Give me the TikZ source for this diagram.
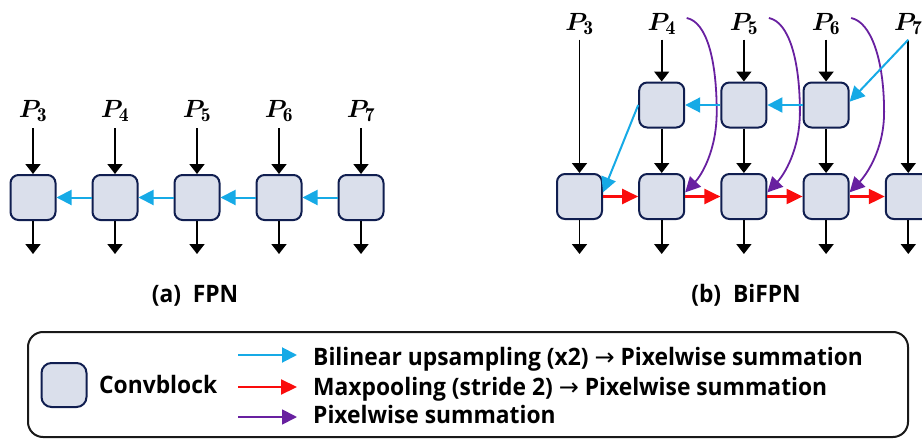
\documentclass[tikz,border=0pt]{standalone}
\usepackage{fontspec}
\usepackage{amsmath,bm}
\usetikzlibrary{arrows.meta}
\newfontfamily\uisans[FakeStretch=0.95]{Open Sans}
\newfontfamily\arrowglyph{DejaVu Sans}
\definecolor{upcyan}{RGB}{22,170,230}
\definecolor{poolred}{RGB}{250,12,12}
\definecolor{sumpurple}{RGB}{104,32,160}
\definecolor{blockedge}{RGB}{16,30,80}
\definecolor{blockfill}{RGB}{218,223,235}
\begin{document}
\begin{tikzpicture}[x=1pt,y=-1pt,
  cblock/.style={draw=blockedge, fill=blockfill, line width=2pt, rounded corners=8pt,
    minimum width=45pt, minimum height=45pt, inner sep=0pt},
  plabel/.style={inner sep=0pt, font=\fontsize{28}{32}\selectfont},
  txt/.style={inner sep=0pt, font=\uisans\bfseries\fontsize{24}{28}\selectfont},
  blk/.style={draw=black, line width=1.8pt, -{Triangle[width=15pt,length=10pt]}},
  cy/.style={draw=upcyan, line width=2pt, -{Triangle[width=15pt,length=15pt]}},
  rd/.style={draw=poolred, line width=2.2pt, -{Triangle[width=15pt,length=16pt]}},
  pp/.style={draw=sumpurple, line width=1.8pt, -{Triangle[width=15pt,length=15pt]}}]
\clip (0,0) rectangle (922,439);

% ---------- FPN ----------
\foreach \i/\x in {3/33,4/115,5/197,6/279,7/361}{
  \node[cblock] (f\i) at (\x,197.5) {};
  \node[plabel, minimum height=34pt] (fp\i) at (\x,111) {$\bm{P}_{\mathbf{\i}}$};
  \coordinate (fo\i) at (\x,254);
  \draw[blk] (fp\i.south) -- (f\i.north);
  \draw[blk] (f\i.south) -- (fo\i);
}
\foreach \a/\b in {4/3,5/4,6/5,7/6}{
  \draw[cy] (f\a.west) -- (f\b.east);
}
\node[txt, anchor=base] (capa) at (195,302) {(a)\ \ FPN};

% ---------- BiFPN ----------
\foreach \i/\x in {3/579.5,4/661.7,5/743.9,6/826.1,7/908.3}{
  \node[cblock] (b\i) at (\x,196.5) {};
  \node[plabel, minimum height=31pt] (bp\i) at (\x,24) {$\bm{P}_{\mathbf{\i}}$};
  \coordinate (bo\i) at (\x,254);
  \draw[blk] (b\i.south) -- (bo\i);
}
\foreach \i/\x in {4/661.7,5/743.9,6/826.1}{
  \node[cblock] (t\i) at (\x,105) {};
  \draw[blk] (bp\i.south) -- (t\i.north);
  \draw[blk] (t\i.south) -- (b\i.north);
}
\draw[blk] (bp3.south) -- (b3.north);
\draw[blk] (bp7.south) -- (b7.north);

% maxpooling path, left to right
\foreach \a/\b in {3/4,4/5,5/6,6/7}{
  \draw[rd] (b\a.east) -- (b\b.west);
}

% skip connections from the inputs
\foreach \i/\x/\w in {4/661.7/55,5/743.9/56,6/826.1/58}{
  \coordinate (s\i) at (\x+25,18);
  \draw[pp] (s\i) .. controls (\x+45,22) and (\x+\w,60) .. (\x+\w,112)
    .. controls (\x+\w,150) and (\x+40,175) .. (b\i.10);
}

% upsampling path, right to left
\draw[cy] (bp7.south) -- (t6.8);
\foreach \a/\b in {6/5,5/4}{
  \draw[cy] (t\a.west) -- (t\b.east);
}
\draw[cy] (t4.west) -- (b3.10);
\node[txt, anchor=base] (capb) at (746,302) {(b)\ \ BiFPN};

% ---------- legend ----------
\node[draw=black!90, line width=2pt, rounded corners=15pt, minimum width=880pt,
  minimum height=105pt, inner sep=0pt] (legend) at (468,384.5) {};
\node[cblock, minimum height=44pt, rounded corners=10pt] (key) at (64,385) {};
\node[txt, anchor=base west] (keytxt) at (99,393) {Convblock};
\foreach \r/\y/\c in {1/355/cy,2/387/rd,3/417/pp}{
  \coordinate (la\r) at (238,\y);
  \coordinate (lb\r) at (297,\y);
  \draw[\c] (la\r) -- (lb\r);
}
\node[txt, anchor=base west] (l1) at (313,365)
  {Bilinear upsampling (x2) {\arrowglyph\mdseries →} Pixelwise summation};
\node[txt, anchor=base west] (l2) at (313,395)
  {Maxpooling (stride 2) {\arrowglyph\mdseries →} Pixelwise summation};
\node[txt, anchor=base west] (l3) at (313,423) {Pixelwise summation};
\end{tikzpicture}
\end{document}
